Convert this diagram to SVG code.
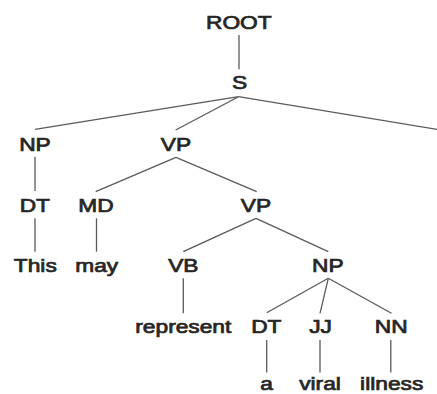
<svg xmlns="http://www.w3.org/2000/svg" width="437" height="394" viewBox="0 0 437 394">
<style>
text{font-family:"Liberation Sans",Arial,sans-serif;font-size:17.5px;fill:#262626;stroke:#262626;stroke-width:0.7;text-anchor:middle}
.e line{stroke:#5a5a5a;stroke-width:1.3}
</style>
<rect width="437" height="394" fill="#fff"/>
<g class="e" id="connectors">
<line x1="239" y1="35" x2="239" y2="69.3"/>
<line x1="238.5" y1="96.7" x2="35" y2="129.3"/>
<line x1="238.5" y1="96.7" x2="175.7" y2="130"/>
<line x1="238.5" y1="96.7" x2="440" y2="129.8"/>
<line x1="35" y1="156.7" x2="35" y2="191"/>
<line x1="176" y1="157.3" x2="95.7" y2="191.7"/>
<line x1="176" y1="157.3" x2="256.7" y2="191.7"/>
<line x1="35" y1="218.3" x2="35" y2="251.7"/>
<line x1="96.5" y1="218.3" x2="96.5" y2="251.7"/>
<line x1="256" y1="218.3" x2="183.3" y2="251.7"/>
<line x1="256" y1="218.3" x2="328.3" y2="251.7"/>
<line x1="183.3" y1="278.3" x2="183.3" y2="313.3"/>
<line x1="328.3" y1="278.3" x2="266.7" y2="312.7"/>
<line x1="328.3" y1="278.3" x2="320" y2="313.3"/>
<line x1="328.3" y1="278.3" x2="391.5" y2="313.3"/>
<line x1="266.7" y1="340" x2="266.7" y2="372.5"/>
<line x1="320" y1="340" x2="320" y2="372.5"/>
<line x1="390.8" y1="340" x2="390.8" y2="372.5"/>
</g>
<g id="n-root"><text transform="translate(238.8,29.3) scale(1.3,1)">ROOT</text></g>
<g id="n-s"><text transform="translate(239.5,89.3) scale(1.3,1)">S</text></g>
<g id="n-np1"><text transform="translate(35,151) scale(1.3,1)">NP</text></g>
<g id="n-vp1"><text transform="translate(176,151) scale(1.3,1)">VP</text></g>
<g id="n-dt1"><text transform="translate(34.8,211.7) scale(1.3,1)">DT</text></g>
<g id="n-md"><text transform="translate(96,211.7) scale(1.3,1)">MD</text></g>
<g id="n-vp2"><text transform="translate(256,211.7) scale(1.3,1)">VP</text></g>
<g id="n-this"><text transform="translate(35.3,272) scale(1.3,1)">This</text></g>
<g id="n-may"><text transform="translate(96.7,272) scale(1.3,1)">may</text></g>
<g id="n-vb"><text transform="translate(183.3,272) scale(1.3,1)">VB</text></g>
<g id="n-np2"><text transform="translate(327.8,272) scale(1.3,1)">NP</text></g>
<g id="n-represent"><text transform="translate(183.3,333.3) scale(1.3,1)">represent</text></g>
<g id="n-dt2"><text transform="translate(266.3,333.3) scale(1.3,1)">DT</text></g>
<g id="n-jj"><text transform="translate(320.6,333.3) scale(1.3,1)">JJ</text></g>
<g id="n-nn"><text transform="translate(391.2,333.3) scale(1.3,1)">NN</text></g>
<g id="n-a"><text transform="translate(266.5,389.5) scale(1.3,1)">a</text></g>
<g id="n-viral"><text transform="translate(320,389.5) scale(1.3,1)">viral</text></g>
<g id="n-illness"><text transform="translate(391.7,389.5) scale(1.3,1)">illness</text></g>
</svg>
